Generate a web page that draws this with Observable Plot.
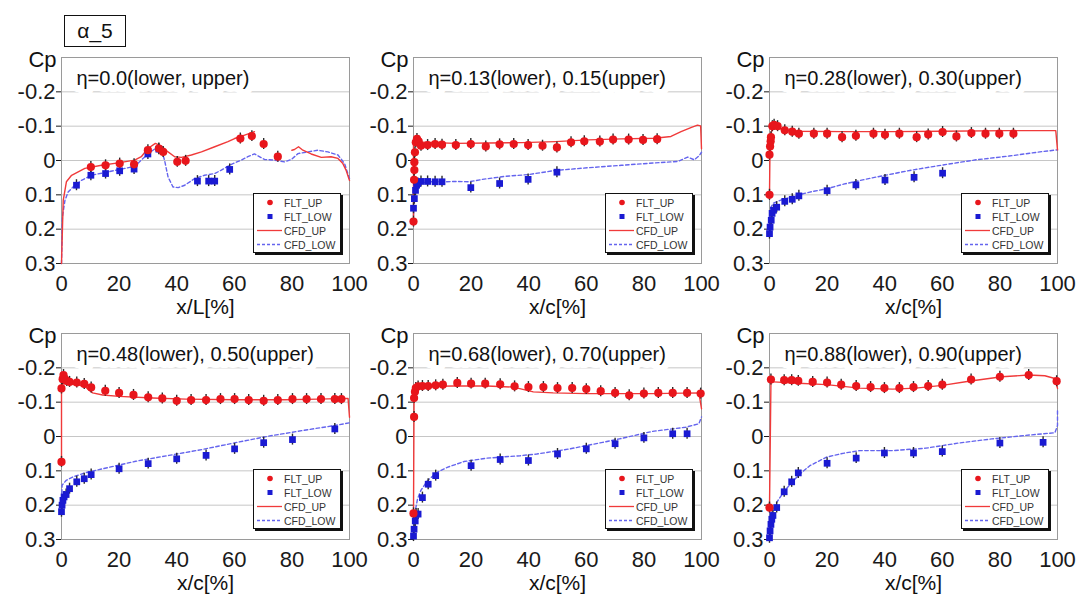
<!DOCTYPE html>
<html>
<head>
<meta charset="utf-8">
<script src="https://cdn.jsdelivr.net/npm/d3@7"></script>
<script src="https://cdn.jsdelivr.net/npm/@observablehq/plot@0.6"></script>
<style>
  html, body { margin: 0; padding: 0; background: #fff; }
  #root { position: relative; width: 1077px; height: 600px; overflow: hidden; background: #fff;
          font-family: "Liberation Sans", Arial, sans-serif; }
  .panel { position: absolute; }
  .alpha { position: absolute; left: 64px; top: 15px; width: 60px; height: 30px; border: 1.5px solid #111;
           font-size: 21px; line-height: 30px; text-align: center; color: #111; background: #fff; }
  .legend { position: absolute; width: 86px; height: 58px; border: 1px solid #111; box-shadow: 2px 2px 0 #111;
            background: #fff; }
  .lrow { position: absolute; left: 0; height: 13px; display: flex; align-items: center; }
  .lrow span { font-size: 10.5px; color: #333; margin-left: 1px; white-space: nowrap; }
  .lrow svg { display: block; }
</style>
</head>
<body>
<div id="root"></div>
<script>
// ---------- data ----------
const alphaLabel = "α_5";
const panelTitles = ["η=0.0(lower, upper)", "η=0.13(lower), 0.15(upper)", "η=0.28(lower), 0.30(upper)",
                     "η=0.48(lower), 0.50(upper)", "η=0.68(lower), 0.70(upper)", "η=0.88(lower), 0.90(upper)"];
const xAxisTitles = ["x/L[%]", "x/c[%]", "x/c[%]", "x/c[%]", "x/c[%]", "x/c[%]"];
const legendLabels = ["FLT_UP", "FLT_LOW", "CFD_UP", "CFD_LOW"];
const xTicks = [0, 20, 40, 60, 80, 100];
const yTicks = [-0.2, -0.1, 0, 0.1, 0.2, 0.3];
const gridValues = [-0.2, -0.1, 0, 0.1, 0.2];
const errHalf = 0.016;

// panel 1
const p1FltUp = [[10.2,0.019],[15.3,0.014],[20.2,0.009],[25.2,0.011],[30,-0.030],[33.8,-0.035],[35.3,-0.025],[40.2,0.004],[43.1,0.001],[62.1,-0.064],[66.1,-0.071],[70.2,-0.048],[75.1,-0.011]];
const p1FltLow = [[5.2,0.072],[10.2,0.043],[15.3,0.038],[20.2,0.030],[25.2,0.025],[30,-0.019],[33.8,-0.033],[47.2,0.060],[51.1,0.060],[53.2,0.060],[58.4,0.026]];
const p1CfdUp = [[0,0.30],[0.6,0.116],[1.7,0.062],[3.5,0.043],[8.1,0.023],[13.9,0.014],[19.7,0.007],[25.4,-0.001],[27.7,-0.011],[30,-0.035],[32.6,-0.050],[34.7,-0.042],[37,-0.025],[39.3,-0.011],[41.6,-0.009],[45.1,-0.016],[48.6,-0.025],[53.2,-0.040],[57.8,-0.055],[60.1,-0.064],[63.6,-0.074],[67,-0.084],[73,NaN],[80,-0.030],[80.9,-0.032],[82.3,-0.040],[83.8,-0.030],[86.7,-0.019],[90.2,-0.009],[93.6,-0.011],[96,-0.006],[97.7,0.009],[98.8,0.028],[100,0.058]];
const p1CfdLow = [[0,0.30],[0.3,0.165],[1.2,0.116],[2.3,0.092],[4,0.077],[6.9,0.058],[10.4,0.043],[16.2,0.033],[22,0.023],[25.4,0.017],[27.7,-0.001],[30,-0.019],[32.9,-0.037],[34.7,-0.032],[35.8,0],[37,0.048],[38.7,0.077],[40.5,0.079],[42.8,0.072],[46.2,0.053],[49.7,0.043],[53.2,0.038],[55.5,0.028],[59,0.011],[62.4,-0.001],[64.7,-0.011],[67,-0.019],[70.5,-0.003],[74,-0.001],[77.5,0.004],[79.8,-0.003],[82.1,-0.020],[85.5,-0.025],[89,-0.030],[92.5,-0.025],[96,-0.016],[98.3,0.009],[100,0.053]];
// panel 2
const p2FltUp = [[0,0.178],[0.2,0.056],[0.3,0.028],[0.3,0.005],[0.5,-0.024],[0.8,-0.053],[1.2,-0.063],[1.8,-0.056],[2.6,-0.043],[4.9,-0.045],[7.5,-0.048],[9.9,-0.046],[14.7,-0.045],[19.9,-0.048],[25.1,-0.041],[29.9,-0.047],[34.8,-0.048],[39.8,-0.045],[44.8,-0.043],[49.8,-0.038],[54.7,-0.053],[59.3,-0.056],[64.7,-0.055],[69.3,-0.061],[74.7,-0.061],[79.7,-0.060],[84.6,-0.062]];
const p2FltLow = [[0,0.139],[0.3,0.111],[0.7,0.087],[1.1,0.072],[1.5,0.067],[2.6,0.061],[4.9,0.061],[7.5,0.062],[9.9,0.062],[19.9,0.079],[29.9,0.067],[39.8,0.055],[49.8,0.034]];
const p2CfdUp = [[0,0.178],[0,-0.053],[0.9,-0.061],[3.2,-0.053],[14.7,-0.05],[26.2,-0.051],[37.7,-0.052],[49.2,-0.055],[60.7,-0.060],[72.2,-0.063],[83.7,-0.065],[89.4,-0.070],[92.9,-0.084],[96.3,-0.096],[98.6,-0.103],[99.7,-0.101],[100,-0.034]];
const p2CfdLow = [[0,0.16],[0.3,0.111],[0.9,0.082],[2,0.070],[4.4,0.062],[10.1,0.062],[14.7,0.061],[19.3,0.062],[23.9,0.055],[31.9,0.046],[39.9,0.041],[49.2,0.029],[60.7,0.021],[72.2,0.014],[83.7,0.007],[91.7,0.003],[95.2,-0.010],[97.5,-0.002],[99.2,-0.014],[100,-0.024]];
// panel 3
const p3FltUp = [[0,0.10],[0,-0.017],[0.2,-0.041],[0.4,-0.056],[0.5,-0.068],[1,-0.10],[1.6,-0.104],[2.8,-0.10],[5.3,-0.088],[7.9,-0.084],[10.2,-0.078],[15.4,-0.078],[20,-0.078],[25.2,-0.068],[30,-0.072],[36.1,-0.078],[40.1,-0.075],[45.1,-0.078],[51.1,-0.068],[55.1,-0.076],[60.1,-0.083],[64.9,-0.070],[70.1,-0.080],[75,-0.078],[79.8,-0.078],[84.7,-0.078]];
const p3FltLow = [[0,0.213],[0.2,0.194],[0.6,0.174],[0.9,0.154],[1.4,0.145],[2.5,0.136],[5.3,0.119],[7.9,0.113],[10.2,0.103],[20,0.088],[30,0.071],[40.1,0.057],[50.2,0.049],[60.1,0.037]];
const p3CfdUp = [[0,0.10],[0.2,-0.06],[1,-0.098],[2,-0.101],[4.3,-0.090],[9.5,-0.085],[25.5,-0.084],[42.8,-0.084],[60,-0.085],[83,-0.087],[99.4,-0.087],[100,-0.031]];
const p3CfdLow = [[0,0.174],[0.5,0.136],[1.4,0.124],[3.7,0.116],[8.3,0.104],[14,0.092],[20,0.082],[25.7,0.069],[31.5,0.058],[37.2,0.048],[48.7,0.029],[60.2,0.013],[71.7,-0.002],[83.2,-0.013],[94.7,-0.026],[100,-0.031]];
// panel 4
const p4FltUp = [[0,0.074],[0,-0.140],[0.4,-0.167],[0.7,-0.179],[1.2,-0.167],[1.8,-0.162],[2.8,-0.159],[5.3,-0.157],[7.9,-0.153],[10.3,-0.143],[15.2,-0.133],[20,-0.127],[25,-0.121],[30.1,-0.114],[35,-0.111],[40,-0.104],[45,-0.106],[50.2,-0.106],[55.2,-0.109],[60.1,-0.109],[65,-0.106],[70.2,-0.104],[75.1,-0.106],[80.2,-0.109],[85.1,-0.109],[90.1,-0.109],[94.9,-0.109],[97.2,-0.109]];
const p4FltLow = [[0,0.219],[0.2,0.2],[0.5,0.186],[0.9,0.176],[1.6,0.169],[2.8,0.152],[5.3,0.132],[7.9,0.123],[10.3,0.111],[20,0.094],[30.1,0.079],[40,0.065],[50.2,0.055],[60.1,0.036],[70.2,0.018],[80.2,0.009],[94.9,-0.022]];
const p4CfdUp = [[0,0.074],[0,-0.140],[0.7,-0.158],[2.8,-0.153],[6.2,-0.150],[8.5,-0.143],[10.8,-0.127],[14.3,-0.121],[20,-0.117],[31.6,-0.112],[43.1,-0.109],[60.4,-0.107],[77.6,-0.107],[89.2,-0.109],[99.5,-0.111],[100,-0.056]];
const p4CfdLow = [[0,0.2],[0.2,0.142],[1.6,0.128],[3.9,0.118],[8.5,0.105],[14.3,0.094],[25.8,0.072],[37.3,0.055],[48.8,0.038],[60.4,0.018],[71.9,-0.001],[83.4,-0.017],[94.9,-0.032],[100,-0.040]];
// panel 5
const p5FltUp = [[0,0.224],[0.2,-0.057],[0.2,-0.112],[0.5,-0.13],[0.8,-0.141],[1.6,-0.146],[3.1,-0.147],[5.1,-0.147],[7.7,-0.149],[10.2,-0.151],[15.2,-0.156],[20,-0.154],[24.9,-0.154],[30.1,-0.152],[35.1,-0.146],[39.9,-0.144],[45.1,-0.144],[50,-0.141],[55.1,-0.141],[60,-0.138],[65,-0.132],[70,-0.127],[74.9,-0.12],[80,-0.125],[85,-0.127],[90,-0.127],[95,-0.127],[99.7,-0.125]];
const p5FltLow = [[0,0.29],[0.2,0.27],[0.6,0.246],[0.9,0.226],[1.6,0.226],[3.1,0.178],[5.1,0.139],[7.7,0.114],[20,0.085],[30.1,0.067],[39.9,0.07],[50,0.051],[60,0.036],[70,0.021],[80,0.004],[90,-0.008],[95,-0.008]];
const p5CfdUp = [[0,0.224],[0.2,-0.12],[1.4,-0.144],[4.8,-0.146],[14,-0.147],[25.5,-0.147],[34.7,-0.144],[41.6,-0.13],[48.5,-0.127],[60,-0.125],[71.5,-0.125],[83,-0.125],[99.1,-0.127],[100,-0.081]];
const p5CfdLow = [[0,0.28],[0.5,0.221],[1.4,0.182],[2.5,0.158],[4.8,0.129],[8.3,0.104],[11.7,0.09],[17.5,0.073],[25.5,0.063],[37,0.056],[42.8,0.051],[54.3,0.036],[65.7,0.017],[71.5,0.007],[83,-0.015],[94.5,-0.027],[99.1,-0.037],[100,-0.057]];
// panel 6
const p6FltUp = [[0,0.207],[0.5,-0.166],[5.1,-0.164],[7.7,-0.164],[10,-0.162],[15,-0.159],[20,-0.157],[24.9,-0.151],[30.1,-0.147],[35.1,-0.144],[39.9,-0.141],[45.1,-0.141],[50,-0.144],[55.1,-0.147],[60,-0.151],[70,-0.166],[80,-0.174],[90,-0.179],[99.7,-0.161]];
const p6FltLow = [[0,0.295],[0.2,0.275],[0.5,0.256],[0.8,0.241],[1.2,0.23],[2.5,0.207],[5.1,0.161],[7.7,0.132],[10,0.106],[20,0.078],[30.1,0.063],[39.9,0.048],[50,0.048],[60,0.044],[80,0.019],[95,0.017]];
const p6CfdUp = [[0,0.207],[0.5,-0.159],[1.4,-0.159],[8.3,-0.156],[19.8,-0.151],[31.3,-0.141],[42.8,-0.138],[50.8,-0.141],[60,-0.149],[69.2,-0.161],[80.7,-0.174],[89.9,-0.179],[95.6,-0.177],[99.1,-0.169],[100,-0.14]];
const p6CfdLow = [[0,0.295],[0.8,0.221],[2.5,0.192],[4.8,0.163],[7.7,0.134],[10.6,0.109],[14,0.085],[19.8,0.06],[25.5,0.049],[31.3,0.041],[42.8,0.041],[54.3,0.034],[65.7,0.019],[77.2,0.007],[88.7,-0.003],[99.1,-0.011],[100,-0.032],[100,-0.081]];

const panelData = [
  [p1FltUp, p1FltLow, p1CfdUp, p1CfdLow],
  [p2FltUp, p2FltLow, p2CfdUp, p2CfdLow],
  [p3FltUp, p3FltLow, p3CfdUp, p3CfdLow],
  [p4FltUp, p4FltLow, p4CfdUp, p4CfdLow],
  [p5FltUp, p5FltLow, p5CfdUp, p5CfdLow],
  [p6FltUp, p6FltLow, p6CfdUp, p6CfdLow]
];

// ---------- styles / layout ----------
const RED = "#e8161c", BLUE = "#1a1ad2", LINE_RED = "#f03a3a", LINE_BLUE = "#6464ee";
const W = 358, H = 320, ML = 60, MR = 10, MT = 57, MB = 57;
const colLeft = [1, 353, 709];
const rowTop = [0, 276];
const FONT = "Liberation Sans, Arial, Helvetica, sans-serif";
const yFmt = d => d === 0 ? "0" : (d < 0 ? "-" : "") + Math.abs(d).toFixed(1);
const tickLabelSet = new Set(xTicks.map(String).concat(yTicks.map(yFmt)));

function toObj(arr) { return arr.map(([x, y]) => ({x, y})); }

function makePanel(i) {
  const [fu, fl, cu, cl] = panelData[i].map(toObj);
  const flt = fu.concat(fl);
  return Plot.plot({
    width: W, height: H,
    marginLeft: ML, marginRight: MR, marginTop: MT, marginBottom: MB,
    style: {background: "transparent", overflow: "visible", fontFamily: FONT, fontSize: "21px", color: "#1a1a1a"},
    x: {domain: [0, 100], ticks: xTicks, tickSize: 0, tickPadding: 12, label: null, tickFormat: d => String(d)},
    y: {domain: [0.3, -0.3], ticks: yTicks, tickSize: 5, tickPadding: 1, label: null, tickFormat: yFmt},
    marks: [
      Plot.ruleY(gridValues, {stroke: "#c6c6c6", strokeWidth: 1}),
      Plot.frame({stroke: "#9a9a9a"}),
      Plot.text([panelTitles[i]], {text: d => d, frameAnchor: "top-left", dx: 15, dy: 13, textAnchor: "start",
                                   fontSize: 20, fill: "#111", stroke: "white", strokeWidth: 14}),
      Plot.text(["Cp"], {text: d => d, frameAnchor: "top-left", dx: -5, dy: -6, textAnchor: "end", fontSize: 22, fill: "#111"}),
      Plot.text([xAxisTitles[i]], {text: d => d, frameAnchor: "bottom", dy: 50, fontSize: 21, fill: "#111"}),
      Plot.line(cl, {x: "x", y: "y", stroke: LINE_BLUE, strokeWidth: 1.4, strokeDasharray: "3.5,2.5"}),
      Plot.line(cu, {x: "x", y: "y", stroke: LINE_RED, strokeWidth: 1.4}),
      Plot.ruleX(flt, {x: "x", y1: d => d.y - errHalf, y2: d => d.y + errHalf, stroke: "#2a2a2a", strokeWidth: 1.4}),
      Plot.dot(fl, {x: "x", y: "y", symbol: "square", r: 3.8, fill: BLUE, stroke: "none"}),
      Plot.dot(fu, {x: "x", y: "y", r: 4.1, fill: RED, stroke: "none"})
    ]
  });
}

function makeLegend(left, top) {
  const div = document.createElement("div");
  div.className = "legend";
  div.style.left = left + "px";
  div.style.top = top + "px";
  const symbols = [
    `<circle cx="16" cy="6.5" r="2.8" fill="${RED}"/>`,
    `<rect x="13.5" y="4" width="5" height="5" fill="${BLUE}"/>`,
    `<line x1="3" x2="28" y1="6.5" y2="6.5" stroke="${LINE_RED}" stroke-width="1.3"/>`,
    `<line x1="3" x2="28" y1="6.5" y2="6.5" stroke="${LINE_BLUE}" stroke-width="1.3" stroke-dasharray="3,2"/>`
  ];
  legendLabels.forEach((lab, k) => {
    const row = document.createElement("div");
    row.className = "lrow";
    row.style.top = (2 + k * 14) + "px";
    row.innerHTML = `<svg width="29" height="13">${symbols[k]}</svg><span>${lab}</span>`;
    div.appendChild(row);
  });
  return div;
}

const root = document.getElementById("root");
const alpha = document.createElement("div");
alpha.className = "alpha";
alpha.textContent = alphaLabel;
root.appendChild(alpha);

for (let i = 0; i < 6; i++) {
  const r = Math.floor(i / 3), c = i % 3;
  const svg = makePanel(i);
  // enlarge axis tick labels to match the source figure
  svg.querySelectorAll("text").forEach(t => {
    if (tickLabelSet.has(t.textContent.trim())) t.style.fontSize = "22px";
  });
  const wrap = document.createElement("div");
  wrap.className = "panel";
  wrap.style.left = colLeft[c] + "px";
  wrap.style.top = rowTop[r] + "px";
  wrap.appendChild(svg);
  root.appendChild(wrap);
  const frameRight = colLeft[c] + W - MR;
  const frameBottom = rowTop[r] + H - MB;
  root.appendChild(makeLegend(frameRight - 96, frameBottom - 70));
}
</script>
</body>
</html>
